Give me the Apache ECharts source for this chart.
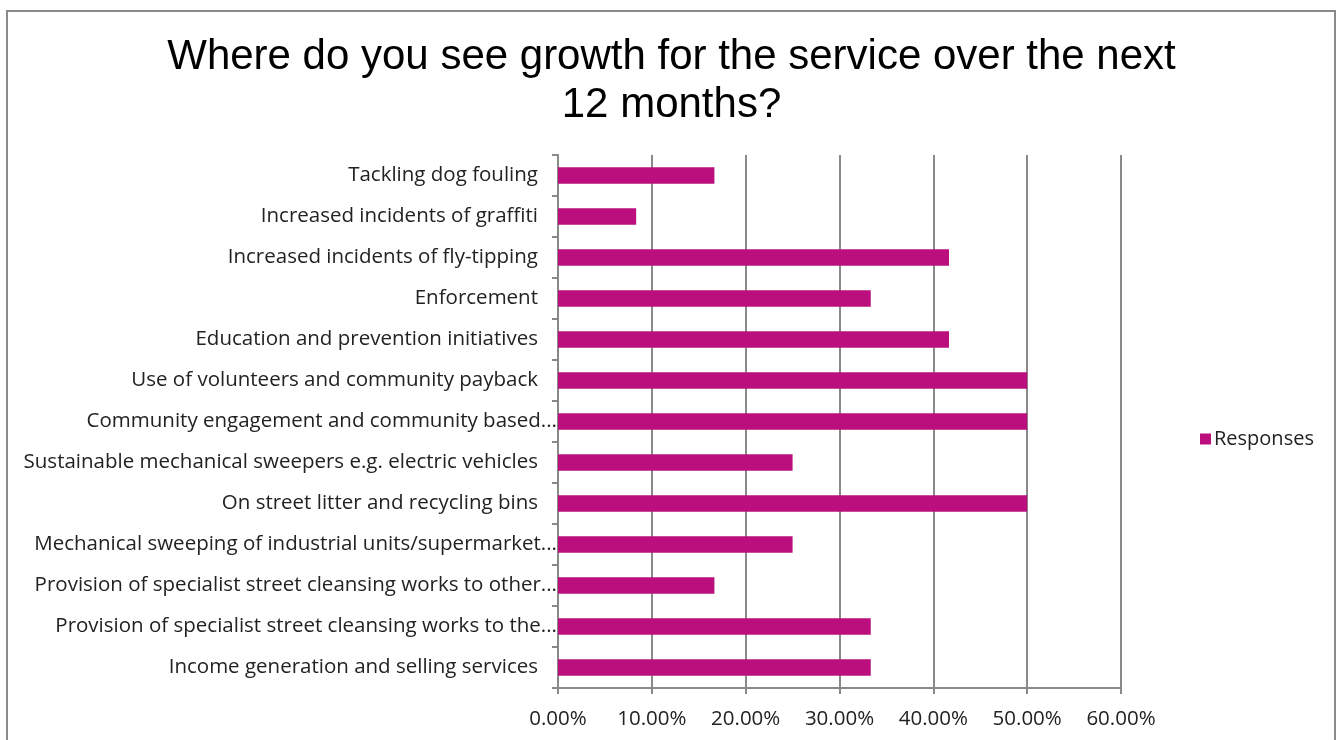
<!DOCTYPE html>
<html>
<head>
<meta charset="utf-8">
<script src="https://cdn.jsdelivr.net/npm/echarts@6/dist/echarts.min.js"></script>
<style>
  html, body { margin: 0; padding: 0; background: #fff; }
  #chart { width: 1343px; height: 740px; }
</style>
</head>
<body>
<div id="chart"></div>
<script>
// Survey answers, listed top to bottom as they appear on the chart
const categories = [
  'Tackling dog fouling',
  'Increased incidents of graffiti',
  'Increased incidents of fly-tipping',
  'Enforcement',
  'Education and prevention initiatives',
  'Use of volunteers and community payback',
  'Community engagement and community based...',
  'Sustainable mechanical sweepers e.g. electric vehicles',
  'On street litter and recycling bins',
  'Mechanical sweeping of industrial units/supermarket...',
  'Provision of specialist street cleansing works to other...',
  'Provision of specialist street cleansing works to the...',
  'Income generation and selling services'
];

// Share of responses (fraction of respondents)
const responses = [
  0.1667, 0.0833, 0.4167, 0.3333, 0.4167, 0.5, 0.5,
  0.25, 0.5, 0.25, 0.1667, 0.3333, 0.3333
];

const xTicks = { min: 0, max: 0.6, step: 0.1 };

const LABEL_FONT = 'Open Sans';
const LABEL_SIZE = 20.5;
const GRID_GRAY = '#898989';
const BAR_COLOR = '#BA0F7D';

const chart = echarts.init(document.getElementById('chart'));

chart.setOption({
  animation: false,
  backgroundColor: '#ffffff',
  title: {
    text: 'Where do you see growth for the service over the next\n12 months?',
    left: 'center',
    top: 28,
    textStyle: {
      fontFamily: 'Liberation Sans',
      fontSize: 42,
      fontWeight: 'normal',
      color: '#000',
      lineHeight: 48
    }
  },
  legend: {
    data: ['Responses'],
    left: 1195,
    top: 424,
    itemWidth: 11,
    itemHeight: 11,
    icon: 'rect',
    textStyle: { fontFamily: LABEL_FONT, fontSize: 20, color: '#222', padding: [0, 0, 0, -2] }
  },
  graphic: [{
    type: 'rect',
    shape: { x: 7, y: 11, width: 1328, height: 760 },
    style: { fill: 'none', stroke: '#8a8a8a', lineWidth: 2 },
    silent: true
  }],
  grid: { left: 558, right: 222, top: 155, bottom: 52 },
  xAxis: {
    type: 'value',
    min: xTicks.min,
    max: xTicks.max,
    interval: xTicks.step,
    axisLine: { show: true, lineStyle: { color: GRID_GRAY, width: 2 } },
    axisTick: { show: true, length: 6, lineStyle: { color: GRID_GRAY, width: 2 } },
    splitLine: { show: true, lineStyle: { color: GRID_GRAY, width: 2 } },
    axisLabel: {
      margin: 21,
      fontFamily: LABEL_FONT,
      fontSize: LABEL_SIZE,
      color: '#222',
      formatter: v => (v * 100).toFixed(2) + '%'
    }
  },
  yAxis: {
    type: 'category',
    data: categories,
    inverse: true,
    axisLine: { show: true, lineStyle: { color: GRID_GRAY, width: 2 } },
    axisTick: { show: true, length: 6, lineStyle: { color: GRID_GRAY, width: 2 } },
    axisLabel: {
      margin: 1,
      fontFamily: LABEL_FONT,
      fontSize: LABEL_SIZE,
      color: '#222',
      formatter: v => v.endsWith('...') ? '{t|' + v + '}' : '{p|' + v + '}',
      rich: {
        t: { fontFamily: LABEL_FONT, fontSize: LABEL_SIZE, color: '#222' },
        p: { fontFamily: LABEL_FONT, fontSize: LABEL_SIZE, color: '#222', padding: [0, 19, 0, 0] }
      }
    }
  },
  series: [{
    name: 'Responses',
    type: 'bar',
    data: responses,
    barCategoryGap: '60%',
    itemStyle: { color: BAR_COLOR }
  }]
});
</script>
</body>
</html>
